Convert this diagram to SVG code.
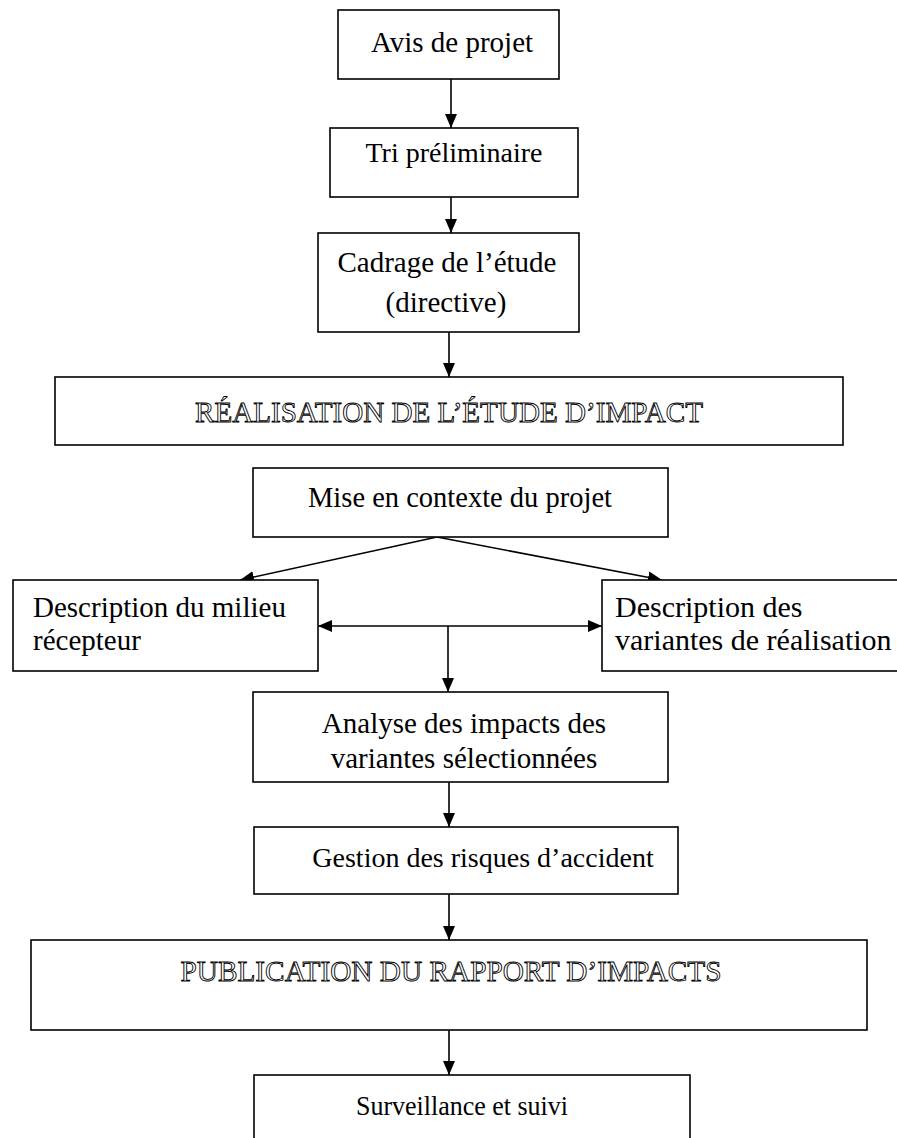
<svg xmlns="http://www.w3.org/2000/svg" width="897" height="1138" viewBox="0 0 897 1138">
<style>
  .box{fill:#fff;stroke:#000;stroke-width:1.6}
  .t{font-family:"Liberation Serif","Times New Roman",serif;font-size:28px;fill:#000}
  .c{text-anchor:middle}
  .o{font-family:"Liberation Serif","Times New Roman",serif;font-size:29px;fill:#fff;stroke:#000;stroke-width:0.9;text-anchor:middle}
  .ln{stroke:#000;stroke-width:1.6;fill:none}
</style>
<defs>
  <marker id="ah" viewBox="0 0 14 12" refX="14" refY="6" markerWidth="14" markerHeight="12" markerUnits="userSpaceOnUse" orient="auto-start-reverse">
    <path d="M0,0 L14,6 L0,12 Z" fill="#000"/>
  </marker>
</defs>
<rect width="897" height="1138" fill="#fff"/>
<g id="connectors">
  <line class="ln" x1="451" y1="79" x2="451" y2="128" marker-end="url(#ah)"/>
  <line class="ln" x1="451" y1="197" x2="451" y2="233" marker-end="url(#ah)"/>
  <line class="ln" x1="449" y1="332" x2="449" y2="377" marker-end="url(#ah)"/>
  <line class="ln" x1="437" y1="537" x2="240" y2="580" marker-end="url(#ah)"/>
  <line class="ln" x1="437" y1="537" x2="662" y2="580" marker-end="url(#ah)"/>
  <line class="ln" x1="318" y1="626" x2="602" y2="626" marker-start="url(#ah)" marker-end="url(#ah)"/>
  <line class="ln" x1="448" y1="626" x2="448" y2="692" marker-end="url(#ah)"/>
  <line class="ln" x1="449" y1="782" x2="449" y2="827" marker-end="url(#ah)"/>
  <line class="ln" x1="449" y1="894" x2="449" y2="940" marker-end="url(#ah)"/>
  <line class="ln" x1="449" y1="1030" x2="449" y2="1075" marker-end="url(#ah)"/>
</g>
<g id="avis">
  <rect class="box" x="338" y="10" width="221" height="69"/>
  <text class="t c" x="452" y="52" style="font-size:29px">Avis de projet</text>
</g>
<g id="tri">
  <rect class="box" x="330" y="128" width="248" height="69"/>
  <text class="t c" x="454" y="162">Tri préliminaire</text>
</g>
<g id="cadrage">
  <rect class="box" x="318" y="233" width="261" height="99"/>
  <text class="t c" x="447" y="272" style="font-size:29px">Cadrage de l’étude</text>
  <text class="t c" x="446" y="312" style="font-size:29px">(directive)</text>
</g>
<g id="realisation">
  <rect class="box" x="55" y="377" width="788" height="68"/>
  <text class="o" x="449" y="422" textLength="508" lengthAdjust="spacingAndGlyphs">RÉALISATION DE L’ÉTUDE D’IMPACT</text>
</g>
<g id="mise">
  <rect class="box" x="253" y="468" width="415" height="69"/>
  <text class="t c" x="460" y="507" style="font-size:28.5px">Mise en contexte du projet</text>
</g>
<g id="milieu">
  <rect class="box" x="13" y="580" width="305" height="91"/>
  <text class="t" x="33" y="617" style="font-size:29px">Description du milieu</text>
  <text class="t" x="33" y="650" style="font-size:29px">récepteur</text>
</g>
<g id="variantes">
  <rect class="box" x="602" y="580" width="310" height="91"/>
  <text class="t" x="615" y="617" style="font-size:30px">Description des</text>
  <text class="t" x="615" y="650" style="font-size:30px">variantes de réalisation</text>
</g>
<g id="analyse">
  <rect class="box" x="253" y="692" width="415" height="90"/>
  <text class="t c" x="464" y="733" style="font-size:29px">Analyse des impacts des</text>
  <text class="t c" x="464" y="768" style="font-size:29px">variantes sélectionnées</text>
</g>
<g id="gestion">
  <rect class="box" x="254" y="827" width="424" height="67"/>
  <text class="t c" x="483" y="867">Gestion des risques d’accident</text>
</g>
<g id="publication">
  <rect class="box" x="31" y="940" width="836" height="90"/>
  <text class="o" x="451" y="981" textLength="541" lengthAdjust="spacingAndGlyphs">PUBLICATION DU RAPPORT D’IMPACTS</text>
</g>
<g id="surveillance">
  <rect class="box" x="254" y="1075" width="436" height="80"/>
  <text class="t c" x="462" y="1115" style="font-size:27.5px" textLength="212" lengthAdjust="spacingAndGlyphs">Surveillance et suivi</text>
</g>
</svg>
